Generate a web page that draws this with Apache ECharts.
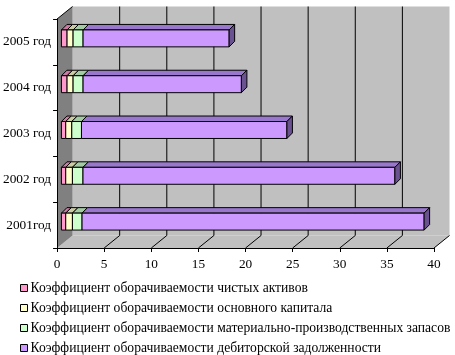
<!DOCTYPE html>
<html>
<head>
<meta charset="utf-8">
<script src="https://cdn.jsdelivr.net/npm/echarts@6/dist/echarts.min.js"></script>
<style>
html,body{margin:0;padding:0;background:#fff;}
#chart{width:455px;height:355px;}
</style>
</head>
<body>
<div id="chart"></div>
<script>
const categories = ['2001год', '2002 год', '2003 год', '2004 год', '2005 год'];
const seriesNames = [
  'Коэффициент оборачиваемости чистых активов',
  'Коэффициент оборачиваемости основного капитала',
  'Коэффициент оборачиваемости материально-производственных запасов',
  'Коэффициент оборачиваемости дебиторской задолженности'
];
const netAssetsTurnover = [0.46, 0.46, 0.46, 0.6, 0.6];
const fixedCapitalTurnover = [0.71, 0.71, 0.64, 0.64, 0.64];
const inventoryTurnover = [1.02, 1.12, 1.03, 1.06, 1.06];
const receivablesTurnover = [36.3, 33.1, 21.8, 16.8, 15.5];
const xMin = 0, xMax = 40, xInterval = 5;

const seriesValues = [netAssetsTurnover, fixedCapitalTurnover, inventoryTurnover, receivablesTurnover];
const frontColors = ['#FF99CC', '#FFFFCC', '#CCFFCC', '#CC99FF'];
const topColors = ['#CC7AA3', '#CCCCA3', '#A3CCA3', '#9977CC'];
const sideColors = ['#8C546F', '#8C8C70', '#708C70', '#6A5290'];

const DX = 15.5, DY = -12.5;   // wall depth
const F0 = 0.28;               // bar front depth fraction
const BD = 5.5;                // bar depth offset
const FONT = '"Liberation Serif", "Times New Roman", serif';
const FS = 13.3;

// stacked starts / ends
const stacked = seriesValues.map(() => []);
categories.forEach((c, i) => {
  let acc = 0;
  seriesValues.forEach((arr, k) => {
    stacked[k].push([acc, acc + arr[i], i]);
    acc += arr[i];
  });
});

function barRender(k, isLast) {
  return function (params, api) {
    const s = api.value(0), e = api.value(1), ci = api.value(2);
    const pS = api.coord([s, ci]);
    const pE = api.coord([e, ci]);
    const band = api.size([0, 1])[1];
    const h = band * 0.37;
    const x0 = pS[0] + DX * F0, x1 = pE[0] + DX * F0;
    const yc = pS[1] + DY * F0;
    const yt = yc - h / 2, yb = yc + h / 2;
    const st = { stroke: '#000', lineWidth: 1 };
    const children = [
      { type: 'polygon', shape: { points: [[x0, yt], [x1, yt], [x1 + BD, yt - BD], [x0 + BD, yt - BD]] },
        style: Object.assign({ fill: topColors[k] }, st) },
      { type: 'rect', shape: { x: x0, y: yt, width: x1 - x0, height: h },
        style: Object.assign({ fill: frontColors[k] }, st) }
    ];
    if (isLast) {
      children.push({ type: 'polygon', shape: { points: [[x1, yt], [x1 + BD, yt - BD], [x1 + BD, yb - BD], [x1, yb]] },
        style: Object.assign({ fill: sideColors[k] }, st) });
    }
    return { type: 'group', children: children };
  };
}

function wallRender(params, api) {
  const cs = params.coordSys;
  const L = cs.x, T = cs.y, R = cs.x + cs.width, B = cs.y + cs.height;
  const children = [];
  children.push({ type: 'rect', shape: { x: L + DX, y: T + DY, width: R - L, height: B - T },
    style: { fill: '#C0C0C0' } });
  children.push({ type: 'polygon', shape: { points: [[L, B], [R, B], [R + DX, B + DY], [L + DX, B + DY]] },
    style: { fill: '#C0C0C0' } });
  children.push({ type: 'polygon', shape: { points: [[L, T], [L + DX, T + DY], [L + DX, B + DY], [L, B]] },
    style: { fill: '#808080' } });
  children.push({ type: 'line', shape: { x1: L, y1: T, x2: L + DX, y2: T + DY }, style: { stroke: '#000', lineWidth: 1 } });
  for (let v = xMin; v <= xMax; v += xInterval) {
    const x = api.coord([v, 0])[0];
    if (v > xMin && v < xMax) {
      children.push({ type: 'line', shape: { x1: x + DX, y1: T + DY, x2: x + DX, y2: B + DY },
        style: { stroke: '#000', lineWidth: 1 } });
    }
    if (v > xMin) {
      children.push({ type: 'line', shape: { x1: x, y1: B, x2: x + DX, y2: B + DY },
        style: { stroke: '#000', lineWidth: 1 } });
    }
  }
  return { type: 'group', children: children };
}

const chart = echarts.init(document.getElementById('chart'), null, { renderer: 'canvas' });

const series = [{
  type: 'custom',
  name: 'walls',
  silent: true,
  z: -1,
  data: [[0, 0]],
  encode: { x: 0, y: 1 },
  renderItem: wallRender
}];
seriesNames.forEach((n, k) => {
  series.push({
    type: 'custom',
    name: n,
    z: 2,
    itemStyle: { color: frontColors[k], borderColor: '#000', borderWidth: 1 },
    data: stacked[k],
    encode: { x: [0, 1], y: 2 },
    renderItem: barRender(k, k === seriesNames.length - 1)
  });
});

chart.setOption({
  backgroundColor: '#fff',
  animation: false,
  grid: { left: 57, right: 21, top: 19, bottom: 107 },
  xAxis: {
    type: 'value', min: xMin, max: xMax, interval: xInterval,
    axisLine: { show: true, lineStyle: { color: '#000', width: 1 } },
    axisTick: { show: true, length: 4, lineStyle: { color: '#000' } },
    axisLabel: { color: '#000', fontFamily: FONT, fontSize: FS, margin: 10 },
    splitLine: { show: false }
  },
  yAxis: {
    type: 'category', data: categories,
    axisLine: { show: true, lineStyle: { color: '#000', width: 1 } },
    axisTick: { show: true, length: 4, lineStyle: { color: '#000' } },
    axisLabel: { color: '#000', fontFamily: FONT, fontSize: FS, margin: 6 },
    splitLine: { show: false }
  },
  legend: {
    data: seriesNames,
    orient: 'vertical',
    left: 20, top: 281,
    padding: 0,
    height: 80,
    itemWidth: 7, itemHeight: 7,
    itemGap: 6,
    icon: 'rect',
    itemStyle: { borderColor: '#000', borderWidth: 1 },
    textStyle: { color: '#000', fontFamily: FONT, fontSize: 13.6, lineHeight: 14, padding: [0, 0, 0, -2] }
  },
  series: series
});
</script>
</body>
</html>
